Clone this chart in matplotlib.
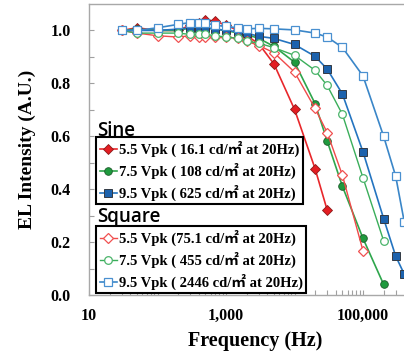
# EL intensity vs drive frequency, sine and square wave drive
import matplotlib.pyplot as plt
from matplotlib.ticker import FixedLocator, FuncFormatter
from matplotlib.font_manager import FontProperties

# Frequencies (Hz)
freq = [30, 50, 100, 200, 300, 400, 500, 700, 1000, 1500, 2000, 3000, 5000,
        10000, 20000, 30000, 50000, 100000, 200000, 300000, 400000]

# Sine wave drive (normalised EL intensity)
sine_55 = [1.00, 1.01, 1.00, 1.00, 1.02, 1.03, 1.04, 1.035, 1.02, 1.00, 0.98,
           0.95, 0.874, 0.702, 0.477, 0.321]
sine_75 = [1.00, 1.005, 1.00, 1.00, 1.01, 1.01, 1.01, 1.005, 1.00, 0.99, 0.985,
           0.97, 0.94, 0.88, 0.723, 0.582, 0.411, 0.214, 0.04]
sine_95 = [1.00, 1.00, 1.00, 1.005, 1.01, 1.01, 1.01, 1.005, 1.00, 0.995, 0.99,
           0.978, 0.97, 0.947, 0.902, 0.854, 0.76, 0.541, 0.289, 0.147, 0.079]

# Square wave drive
square_55 = [1.00, 0.99, 0.98, 0.975, 0.98, 0.975, 0.975, 0.975, 0.975, 0.97,
             0.96, 0.943, 0.916, 0.843, 0.705, 0.614, 0.453, 0.167]
square_75 = [1.00, 0.99, 0.99, 0.99, 0.985, 0.985, 0.985, 0.98, 0.975, 0.97,
             0.96, 0.952, 0.935, 0.906, 0.849, 0.792, 0.683, 0.443, 0.205]
square_95 = [1.00, 1.00, 1.01, 1.023, 1.03, 1.03, 1.028, 1.02, 1.015, 1.01,
             1.006, 1.008, 1.006, 1.002, 0.99, 0.975, 0.936, 0.828, 0.60,
             0.449, 0.277]

sine_labels = ["5.5 Vpk ( 16.1 cd/㎡ at 20Hz)",
               "7.5 Vpk ( 108 cd/㎡ at 20Hz)",
               "9.5 Vpk ( 625 cd/㎡ at 20Hz)"]
square_labels = ["5.5 Vpk (75.1 cd/㎡ at 20Hz)",
                 "7.5 Vpk ( 455 cd/㎡ at 20Hz)",
                 "9.5 Vpk ( 2446 cd/㎡ at 20Hz)"]

red, green, blue = "#e8272b", "#2ea64c", "#2474c0"
serif = ["Liberation Serif", "Noto Sans CJK JP"]

fig = plt.figure(figsize=(4.04, 3.56), dpi=100)
ax = fig.add_axes([89 / 404, 1 - 295 / 356, 1 - 89 / 404, 291 / 356])

# sine curves: filled markers
s1, = ax.plot(freq[:len(sine_55)], sine_55, "-D", color=red, lw=1.2, ms=5,
              mfc="#e41d22", mec="#8a1a1a", mew=0.6)
s2, = ax.plot(freq[:len(sine_75)], sine_75, "-o", color=green, lw=1.2, ms=5.5,
              mfc="#1f9a3e", mec="#1d5a2a", mew=0.6)
s3, = ax.plot(freq[:len(sine_95)], sine_95, "-s", color=blue, lw=1.2, ms=6,
              mfc="#1c62ad", mec="#333a44", mew=0.7)

# square curves: hollow markers
q1, = ax.plot(freq[:len(square_55)], square_55, "-D", color="#f04a4a", lw=1.0,
              ms=5, mfc="white", mec="#f05050", mew=0.9)
q2, = ax.plot(freq[:len(square_75)], square_75, "-o", color="#3aae5a", lw=1.0,
              ms=5.5, mfc="white", mec="#4ab46a", mew=0.9)
q3, = ax.plot(freq[:len(square_95)], square_95, "-s", color="#3a86c8", lw=1.2,
              ms=6, mfc="white", mec="#4a90d0", mew=0.9)

# axes scale and limits
ax.set_xscale("log")
ax.set_xlim(10, 10 ** (1 + 315 / 68.5))
ax.set_ylim(0, 1.1)

ax.xaxis.set_major_locator(FixedLocator([10, 100, 1000, 10000, 100000]))
ax.xaxis.set_minor_locator(FixedLocator(
    [m * 10 ** e for e in range(1, 6) for m in range(2, 10)]))
ax.xaxis.set_major_formatter(FuncFormatter(
    lambda v, p: f"{int(v):,}" if v in (10, 1000, 100000) else ""))
ax.set_yticks([0, 0.2, 0.4, 0.6, 0.8, 1.0])
ax.set_yticks([0.1, 0.3, 0.5, 0.7, 0.9], minor=True)
ax.yaxis.set_major_formatter(FuncFormatter(lambda v, p: f"{v:.1f}"))

ax.tick_params(which="both", direction="in", length=3.5, color="#a0a0a0",
               width=0.8)
ax.tick_params(axis="y", which="major", pad=13)
ax.tick_params(axis="x", which="major", pad=9)
for lab in ax.get_xticklabels() + ax.get_yticklabels():
    lab.set_fontfamily("Liberation Serif")
    lab.set_fontweight("bold")
    lab.set_fontsize(11.5)

for side in ["left", "bottom", "top"]:
    ax.spines[side].set_color("#a8a8a8")
    ax.spines[side].set_linewidth(1.0)
ax.spines["right"].set_visible(False)

ax.set_xlabel("Frequency (Hz)", fontfamily="Liberation Serif",
              fontweight="bold", fontsize=14.5)
ax.xaxis.set_label_coords((255 - 89) / 315, -0.125)
ax.set_ylabel("EL Intensity (A.U.)", fontfamily="Liberation Serif",
              fontweight="bold", fontsize=14)
ax.yaxis.set_label_coords(-0.168, 0.5)

# two legends, titles drawn as plain text above each box
prop = FontProperties(family=serif, weight="bold", size=10.5)
leg_kw = dict(loc="upper left", prop=prop, frameon=True, fancybox=False,
              framealpha=1, edgecolor="black", handlelength=1.2,
              handletextpad=0.1, labelspacing=0.4, borderpad=0.25,
              borderaxespad=0, bbox_transform=fig.transFigure)
leg1 = ax.legend([s1, s2, s3], sine_labels,
                 bbox_to_anchor=(96 / 404, 1 - 137 / 356), **leg_kw)
leg1.get_frame().set_linewidth(1.5)
ax.add_artist(leg1)
leg2 = ax.legend([q1, q2, q3], square_labels,
                 bbox_to_anchor=(96 / 404, 1 - 226 / 356), **leg_kw)
leg2.get_frame().set_linewidth(1.5)

fig.text(97 / 404, 1 - 136 / 356, "Sine", fontfamily="Open Sans",
         fontsize=13.5, fontweight="semibold", va="baseline")
fig.text(97 / 404, 1 - 222 / 356, "Square", fontfamily="Open Sans",
         fontsize=13.5, fontweight="semibold", va="baseline")

plt.savefig("out.png", dpi=100)
